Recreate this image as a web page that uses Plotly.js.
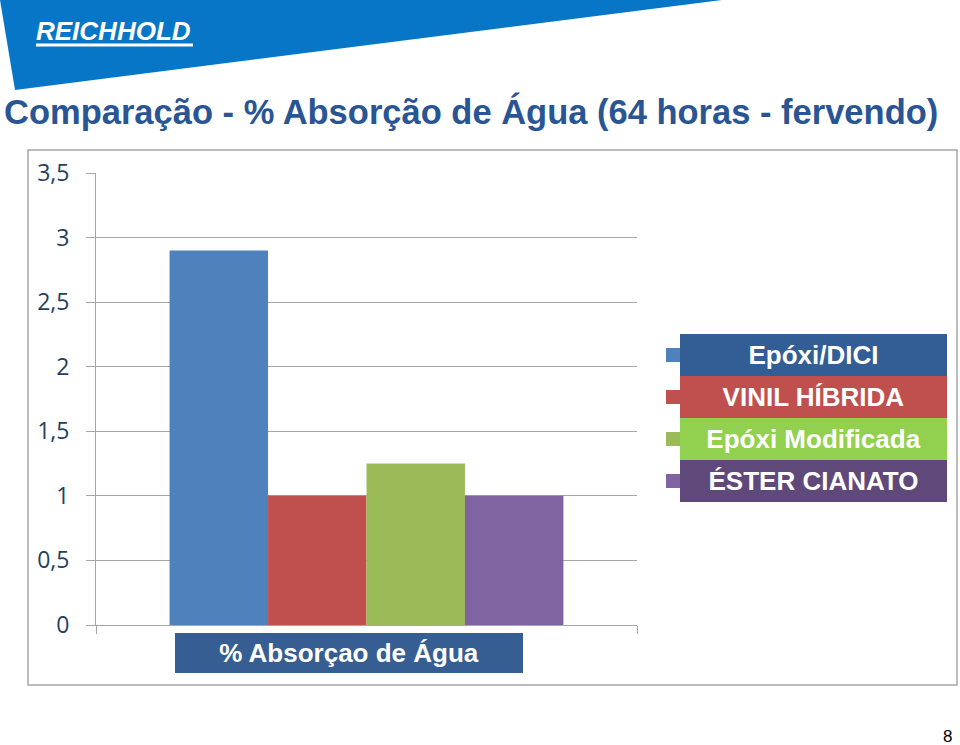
<!DOCTYPE html>
<html>
<head>
<meta charset="utf-8">
<script src="https://cdn.plot.ly/plotly-3.0.1.min.js"></script>
<style>html,body{margin:0;padding:0;background:#fff;}#chart{width:960px;height:745px;}</style>
</head>
<body>
<div id="chart"></div>
<script>
// ---- data ----
const categories = ['% Absorçao de Água'];
const seriesNames = ['Epóxi/DICI', 'VINIL HÍBRIDA', 'Epóxi Modificada', 'ÉSTER CIANATO'];
const seriesValues = [2.9, 1.0, 1.25, 1.0];
const yTickVals = [0, 0.5, 1, 1.5, 2, 2.5, 3, 3.5];
const yTickLabels = ['0', '0,5', '1', '1,5', '2', '2,5', '3', '3,5'];
const chartTitle = 'Comparação - % Absorção de Água (64 horas - fervendo)';
const logoText = 'REICHHOLD';
const pageNumber = '8';

// ---- styles ----
const barColors = ['#4F81BD', '#C0504D', '#9BBB59', '#8064A2'];
const labelBoxColors = ['#335D95', '#C0504D', '#92D050', '#5F497A'];

const W = 960, H = 745, ML = 96, MR = 323, MT = 173, MB = 120;
const pw = W - ML - MR, ph = H - MT - MB;
const px = x => (x - ML) / pw;
const py = y => (H - MB - y) / ph;

const traces = seriesNames.map((name, i) => ({
  type: 'bar',
  name: name,
  x: categories,
  y: [seriesValues[i]],
  marker: { color: barColors[i], line: { width: 0 } },
  hoverinfo: 'none'
}));

const shapes = [];
const annotations = [];

// banner
shapes.push({
  type: 'path', xref: 'paper', yref: 'paper',
  path: `M ${px(0)},${py(0)} L ${px(722)},${py(0)} L ${px(15)},${py(90)} Z`,
  fillcolor: '#0776C6', line: { width: 0 }, layer: 'below'
});
// logo underline
shapes.push({
  type: 'rect', xref: 'paper', yref: 'paper',
  x0: px(36), x1: px(193), y0: py(43.5), y1: py(46.5),
  fillcolor: '#FFFFFF', line: { width: 0 }
});
annotations.push({
  xref: 'paper', yref: 'paper', x: px(113), y: py(31), xanchor: 'center', yanchor: 'middle',
  text: '<b><i>' + logoText + '</i></b>', showarrow: false,
  font: { family: 'Liberation Sans, Arial', size: 26, color: '#FFFFFF' }
});

// chart border
shapes.push({
  type: 'rect', xref: 'paper', yref: 'paper',
  x0: px(28), x1: px(957), y0: py(685), y1: py(150),
  fillcolor: 'rgba(0,0,0,0)', line: { color: '#A6A6A6', width: 1.5 }, layer: 'below'
});

// legend
const legTop = 334, rowH = 42;
seriesNames.forEach((name, i) => {
  const cy = legTop + rowH * i + rowH / 2;
  shapes.push({
    type: 'rect', xref: 'paper', yref: 'paper',
    x0: px(666), x1: px(680), y0: py(cy + 7), y1: py(cy - 7),
    fillcolor: barColors[i], line: { width: 0 }
  });
  annotations.push({
    xref: 'paper', yref: 'paper', x: px(813.5), y: py(cy), xanchor: 'center', yanchor: 'middle',
    text: '<b>' + name + '</b>', showarrow: false,
    width: 267, height: rowH, bgcolor: labelBoxColors[i], borderpad: 0, borderwidth: 0,
    font: { family: 'Liberation Sans, Arial', size: 26, color: '#FFFFFF' }
  });
});

// category label box
annotations.push({
  xref: 'paper', yref: 'paper', x: px(349), y: py(653), xanchor: 'center', yanchor: 'middle',
  text: '<b>' + categories[0] + '</b>', showarrow: false,
  width: 348, height: 40, bgcolor: '#375E92', borderpad: 0, borderwidth: 0,
  font: { family: 'Liberation Sans, Arial', size: 26, color: '#FFFFFF' }
});

// page number
annotations.push({
  xref: 'paper', yref: 'paper', x: px(954), y: py(736), xanchor: 'right', yanchor: 'middle',
  text: pageNumber, showarrow: false,
  font: { family: 'Liberation Sans, Arial', size: 17, color: '#000000' }
});

const layout = {
  width: W, height: H,
  margin: { l: ML, r: MR, t: MT, b: MB, pad: 0 },
  paper_bgcolor: '#FFFFFF', plot_bgcolor: '#FFFFFF',
  showlegend: false,
  barmode: 'group', bargap: 0.272, bargroupgap: 0,
  separators: ',.',
  title: {
    text: '<b>' + chartTitle + '</b>',
    xref: 'container', yref: 'container',
    x: 4 / W, xanchor: 'left', y: 1 - 112 / H, yanchor: 'middle',
    font: { family: 'Liberation Sans, Arial', size: 34.5, color: '#2A5594' }
  },
  xaxis: {
    type: 'category', showticklabels: false,
    showline: true, linecolor: '#A6A6A6', linewidth: 1,
    ticks: 'outside', tickson: 'boundaries', ticklen: 8, tickcolor: '#A6A6A6', tickwidth: 1,
    showgrid: false, zeroline: false, fixedrange: true
  },
  yaxis: {
    range: [0, 3.5], tickmode: 'array', tickvals: yTickVals, ticktext: yTickLabels,
    showline: true, linecolor: '#A6A6A6', linewidth: 1,
    ticks: 'outside', ticklen: 9, tickcolor: '#A6A6A6', tickwidth: 1,
    showgrid: true, gridcolor: '#A6A6A6', gridwidth: 1, zeroline: false,
    ticklabelstandoff: 12,
    tickfont: { family: 'Open Sans, Calibri, sans-serif', size: 23, color: '#243F60' },
    fixedrange: true
  },
  shapes: shapes,
  annotations: annotations
};

Plotly.newPlot('chart', traces, layout, { displayModeBar: false, staticPlot: true });
</script>
</body>
</html>
